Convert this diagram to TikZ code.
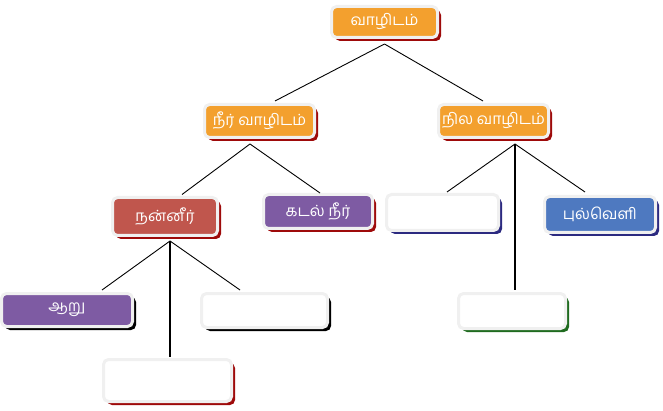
\documentclass[tikz,border=0pt]{standalone}
\usepackage{fontspec}
\newfontfamily\tamilfont[Script=Tamil]{Hind Madurai}
\usetikzlibrary{shadows}
\definecolor{orangebox}{HTML}{F3A02E}
\definecolor{redbox}{HTML}{C0564D}
\definecolor{purplebox}{HTML}{7E5BA3}
\definecolor{bluebox}{HTML}{4E79C0}
\definecolor{edgegrey}{HTML}{F0F0F0}
\definecolor{shred}{HTML}{9E0A0A}
\definecolor{shblue}{HTML}{2C2A80}
\definecolor{shgreen}{HTML}{1F6B1F}
\tikzset{
  box/.style={rectangle, rounded corners=5pt, draw=edgegrey, line width=3pt,
    text=white, font=\tamilfont\fontsize{15.5}{18}\selectfont, inner sep=0pt},
  sh/.style={drop shadow={shadow xshift=3.5pt, shadow yshift=-3.5pt, fill=#1, opacity=1}},
  link/.style={draw=black, line width=0.9pt},
  trunk/.style={draw=black, line width=1.8pt}
}
\begin{document}
\begin{tikzpicture}[x=1pt,y=-1pt]
\path[use as bounding box] (0,0) rectangle (663,411);
% nodes
\node[box, fill=orangebox, sh=shred, minimum width=106pt, minimum height=31pt] (root) at (384.5,22) {வாழிடம்};
\node[box, fill=orangebox, sh=shred, minimum width=110pt, minimum height=33pt] (water) at (259.5,121) {நீர் வாழிடம்};
\node[box, fill=orangebox, sh=shred, minimum width=110pt, minimum height=33pt] (land) at (493.5,121) {நில வாழிடம்};
\node[box, fill=redbox, sh=shred, minimum width=105pt, minimum height=38pt] (fresh) at (165,216.5) {நன்னீர்};
\node[box, fill=purplebox, sh=shred, minimum width=109pt, minimum height=34pt] (sea) at (318,211.5) {கடல் நீர்};
\node[box, fill=purplebox, sh=black, minimum width=131pt, minimum height=33pt] (river) at (67,310) {ஆறு};
\node[box, fill=white, sh=black, minimum width=126pt, minimum height=34pt] (blankA) at (264.5,310.5) {};
\node[box, fill=white, sh=shred, minimum width=128pt, minimum height=42pt] (blankB) at (167.5,380.5) {};
\node[box, fill=white, sh=shblue, minimum width=112pt, minimum height=36pt] (blankC) at (442.5,212.5) {};
\node[box, fill=bluebox, sh=shblue, minimum width=111pt, minimum height=36pt] (grass) at (600,214.5) {புல்வெளி};
\node[box, fill=white, sh=shgreen, minimum width=107pt, minimum height=35pt] (blankD) at (512,311) {};
% connectors
\draw[link] ([yshift=-5pt]root.south) -- ([xshift=15.5pt,yshift=2pt]water.north);
\draw[link] ([yshift=-5pt]root.south) -- ([xshift=-10.5pt,yshift=2pt]land.north);
\draw[link] ([xshift=-9.5pt,yshift=-5pt]water.south) -- ([xshift=17pt,yshift=1.5pt]fresh.north);
\draw[link] ([xshift=-9.5pt,yshift=-5pt]water.south) -- ([xshift=2pt,yshift=0pt]sea.north);
\draw[link] ([xshift=5pt,yshift=-4pt]fresh.south) -- ([xshift=35pt,yshift=2pt]river.north);
\draw[link] ([xshift=5pt,yshift=-4pt]fresh.south) -- ([xshift=-24.5pt,yshift=2pt]blankA.north);
\draw[trunk] ([xshift=5pt,yshift=-4pt]fresh.south) -- ([xshift=2.5pt,yshift=1pt]blankB.north);
\draw[link] ([xshift=21.5pt,yshift=-5pt]land.south) -- ([xshift=4.5pt,yshift=1pt]blankC.north);
\draw[link] ([xshift=21.5pt,yshift=-5pt]land.south) -- ([xshift=-15pt,yshift=3pt]grass.north);
\draw[trunk] ([xshift=21.5pt,yshift=-5pt]land.south) -- ([xshift=3pt,yshift=2pt]blankD.north);
\end{tikzpicture}
\end{document}
